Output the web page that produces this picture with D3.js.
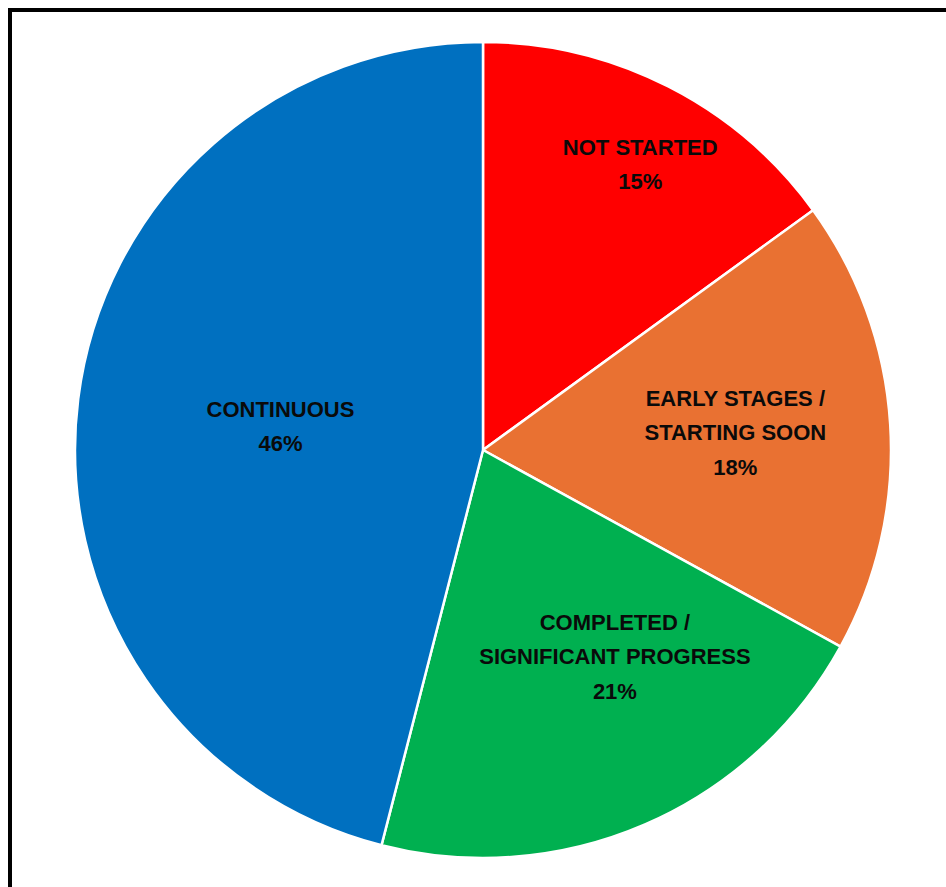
<!DOCTYPE html>
<html>
<head>
<meta charset="utf-8">
<script src="https://cdn.jsdelivr.net/npm/d3@7"></script>
<style>
  html, body { margin: 0; padding: 0; background: #fff; }
  svg { display: block; }
</style>
</head>
<body>
<svg id="chart" width="946" height="887"></svg>
<script>
// Status breakdown, clockwise from 12 o'clock
const categories = ["NOT STARTED", "EARLY STAGES / STARTING SOON", "COMPLETED / SIGNIFICANT PROGRESS", "CONTINUOUS"];
const labelLines = [["NOT STARTED"], ["EARLY STAGES /", "STARTING SOON"], ["COMPLETED /", "SIGNIFICANT PROGRESS"], ["CONTINUOUS"]];
const percents = [15, 18, 21, 46];
const colors = ["#FF0000", "#E97132", "#00B050", "#0070C0"];

const W = 946, H = 887;
const cx = 483, cy = 450, R = 408;

// Label placement inside each slice: radius (fraction of R) and angle nudge (degrees)
const labelLayout = [
  { r: 0.80, da: 1.8 },
  { r: 0.62, da: -0.4 },
  { r: 0.60, da: -9.2 },
  { r: 0.50, da: -0.4 }
];

const svg = d3.select("#chart");

// outer frame
svg.append("rect")
  .attr("x", 10).attr("y", 10)
  .attr("width", W + 20).attr("height", H + 20)
  .attr("fill", "none")
  .attr("stroke", "#000")
  .attr("stroke-width", 4);

const data = categories.map((c, i) => ({ category: c, value: percents[i], lines: labelLines[i], color: colors[i], idx: i }));

const pie = d3.pie().value(d => d.value).sort(null);
const arcs = pie(data);
const arc = d3.arc().innerRadius(0).outerRadius(R);

const g = svg.append("g").attr("transform", `translate(${cx},${cy})`);

g.selectAll("path.slice")
  .data(arcs)
  .join("path")
  .attr("class", "slice")
  .attr("d", arc)
  .attr("fill", d => d.data.color)
  .attr("stroke", "#fff")
  .attr("stroke-width", 2.5)
  .attr("stroke-linejoin", "round");

const lineH = 34.5;
const labels = g.selectAll("text.lbl")
  .data(arcs)
  .join("text")
  .attr("class", "lbl")
  .attr("text-anchor", "middle")
  .attr("font-family", "'Liberation Sans', Arial, sans-serif")
  .attr("font-weight", "bold")
  .attr("font-size", 22)
  .attr("fill", "#0a0a0a")
  .attr("transform", d => {
    const lay = labelLayout[d.data.idx];
    const a = (d.startAngle + d.endAngle) / 2 + lay.da * Math.PI / 180;
    const rr = R * lay.r;
    return `translate(${rr * Math.sin(a)},${-rr * Math.cos(a)})`;
  });

labels.each(function(d) {
  const lines = d.data.lines.concat([d.data.value + "%"]);
  const n = lines.length;
  const sel = d3.select(this);
  lines.forEach((t, k) => {
    sel.append("tspan")
      .attr("x", 0)
      .attr("y", (k - (n - 1) / 2) * lineH + 8)
      .text(t);
  });
});
</script>
</body>
</html>
